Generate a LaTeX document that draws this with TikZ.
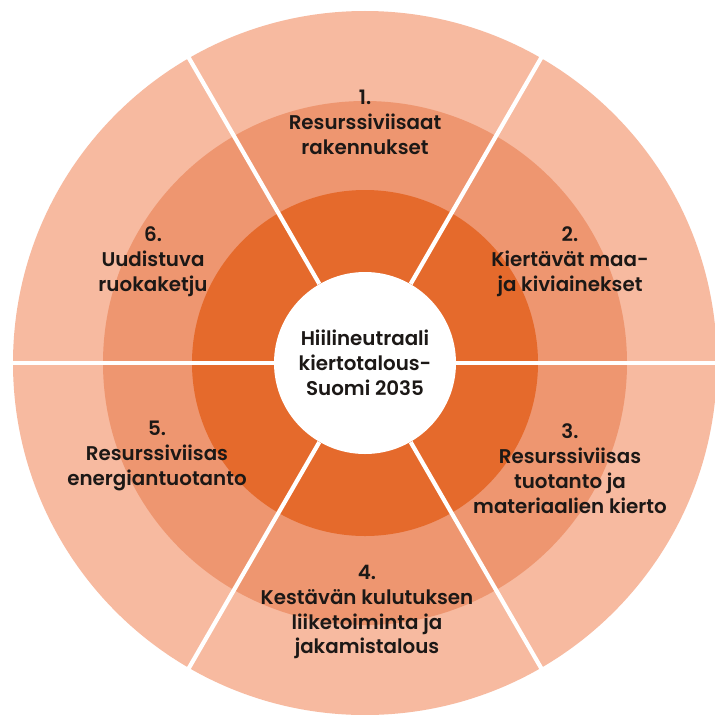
\documentclass[tikz,border=0pt]{standalone}
\usepackage{fontspec}
\setmainfont{Poppins}[UprightFont={* SemiBold}]
\usepackage{xcolor}
\usepackage{tikz}
\usetikzlibrary{positioning, calc}

\definecolor{ringout}{RGB}{247,186,160}
\definecolor{ringmid}{RGB}{238,150,112}
\definecolor{ringin}{RGB}{229,106,44}
\definecolor{labeltext}{RGB}{28,24,22}

\begin{document}
\begin{tikzpicture}[
    x=0.02cm, y=0.02cm,
    sector/.style={align=center, text=labeltext, font=\fontsize{11.3}{14.2}\selectfont, inner sep=0pt},
    divider/.style={white, line width=2.4pt}
]
    \useasboundingbox[fill=white] (-365,-351) rectangle (350,363);
    \clip (-365,-351) rectangle (350,363);

    % Rings
    \fill[ringout] (0,0) circle (352);
    \fill[ringmid] (0,0) circle (262);
    \fill[ringin] (0,0) circle (173);
    \node[circle, fill=white, minimum size=182*0.02cm, inner sep=0pt] (hub) at (0,0) {};

    % Dividers
    \foreach \a in {0,60,...,300}
        \draw[divider] (hub.\a) -- (\a:360);

    % Centre
    \node[sector] (goal) at (0,0) {Hiilineutraali\\kiertotalous-\\Suomi 2035};

    % Sectors
    \node[sector] (s1) at (0,241) {1.\\Resurssiviisaat\\rakennukset};
    \node[sector] (s2) at (205,101) {2.\\Kiertävät maa-\\ja kiviainekset};
    \node[sector] (s3) at (205,-106) {3.\\Resurssiviisas\\tuotanto ja\\materiaalien kierto};
    \node[sector] (s4) at (2,-249) {4.\\Kestävän kulutuksen\\liiketoiminta ja\\jakamistalous};
    \node[sector] (s5) at (-208,-93) {5.\\Resurssiviisas\\energiantuotanto};
    \node[sector] (s6) at (-212,101) {6.\\Uudistuva\\ruokaketju};
\end{tikzpicture}
\end{document}
